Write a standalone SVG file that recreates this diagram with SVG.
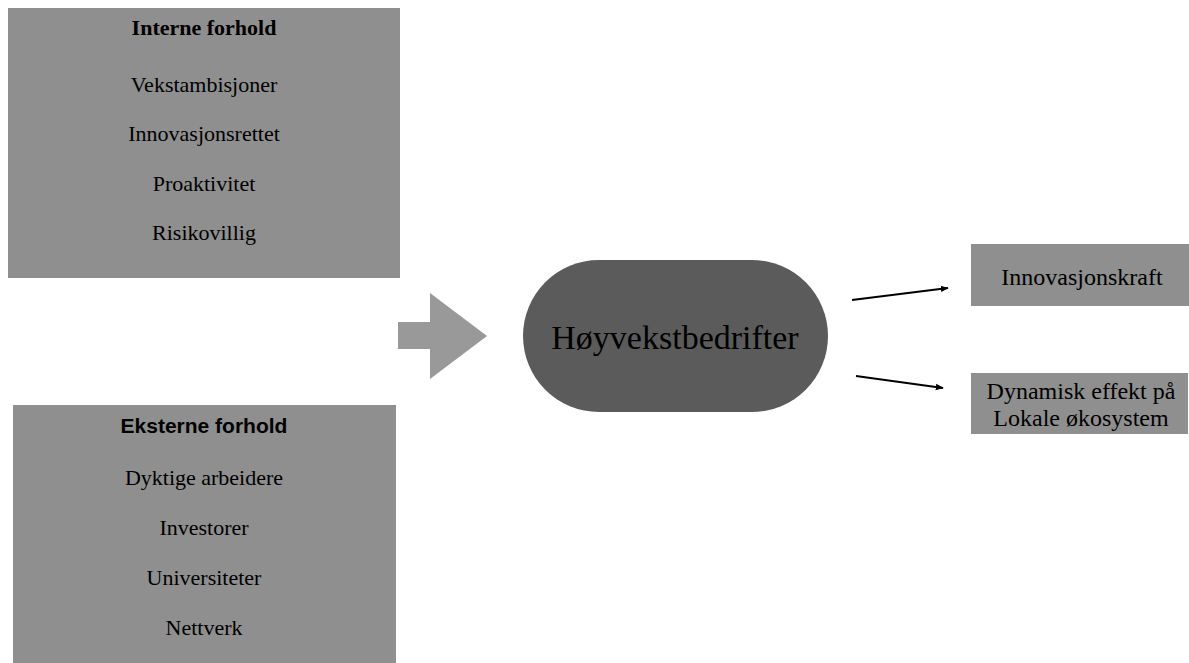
<svg xmlns="http://www.w3.org/2000/svg" width="1189" height="663" viewBox="0 0 1189 663">
<style>
.box{fill:#8f8f8f}
.t{font-family:"Liberation Serif","Times New Roman",serif;font-size:22px;fill:#000;text-anchor:middle}
.r{font-size:24px}
.conn{stroke:#000;stroke-width:1.8;fill:none}
</style>
<defs>
<marker id="ah" viewBox="0 0 10 10" refX="9" refY="5" markerWidth="8" markerHeight="8" orient="auto" markerUnits="userSpaceOnUse">
<path d="M0,1 L10,5 L0,9 Z" fill="#000"/>
</marker>
</defs>
<rect width="1189" height="663" fill="#fff"/>
<g id="interne">
<rect class="box" x="8" y="8" width="392" height="270"/>
<text class="t" x="204" y="35" font-weight="bold">Interne forhold</text>
<text class="t" x="204" y="92">Vekstambisjoner</text>
<text class="t" x="204" y="141">Innovasjonsrettet</text>
<text class="t" x="204" y="191">Proaktivitet</text>
<text class="t" x="204" y="240">Risikovillig</text>
</g>
<g id="eksterne">
<rect class="box" x="13" y="405" width="383" height="258"/>
<text x="204" y="433" font-family="Liberation Sans, Arial, sans-serif" font-size="21" font-weight="bold" text-anchor="middle">Eksterne forhold</text>
<text class="t" x="204" y="485">Dyktige arbeidere</text>
<text class="t" x="204" y="535">Investorer</text>
<text class="t" x="204" y="585">Universiteter</text>
<text class="t" x="204" y="635">Nettverk</text>
</g>
<g id="blockarrow">
<polygon points="398,322 430,322 430,293 487,336 430,379 430,349 398,349" fill="#999"/>
</g>
<g id="hoyvekst">
<rect x="523" y="260" width="305" height="152" rx="76" ry="76" fill="#5b5b5b"/>
<text x="675" y="349" font-family="Liberation Serif, Times New Roman, serif" font-size="34" text-anchor="middle">Høyvekstbedrifter</text>
</g>
<g id="innovasjonskraft">
<rect class="box" x="971" y="244" width="218" height="62"/>
<text class="t r" x="1082" y="285">Innovasjonskraft</text>
</g>
<g id="dynamisk">
<rect class="box" x="971" y="373" width="217" height="61"/>
<text class="t r" x="1081" y="399">Dynamisk effekt på</text>
<text class="t r" x="1081" y="426">Lokale økosystem</text>
</g>
<g id="connectors">
<line class="conn" x1="852" y1="300" x2="948" y2="288" marker-end="url(#ah)"/>
<line class="conn" x1="856" y1="376" x2="943" y2="388" marker-end="url(#ah)"/>
</g>
</svg>
